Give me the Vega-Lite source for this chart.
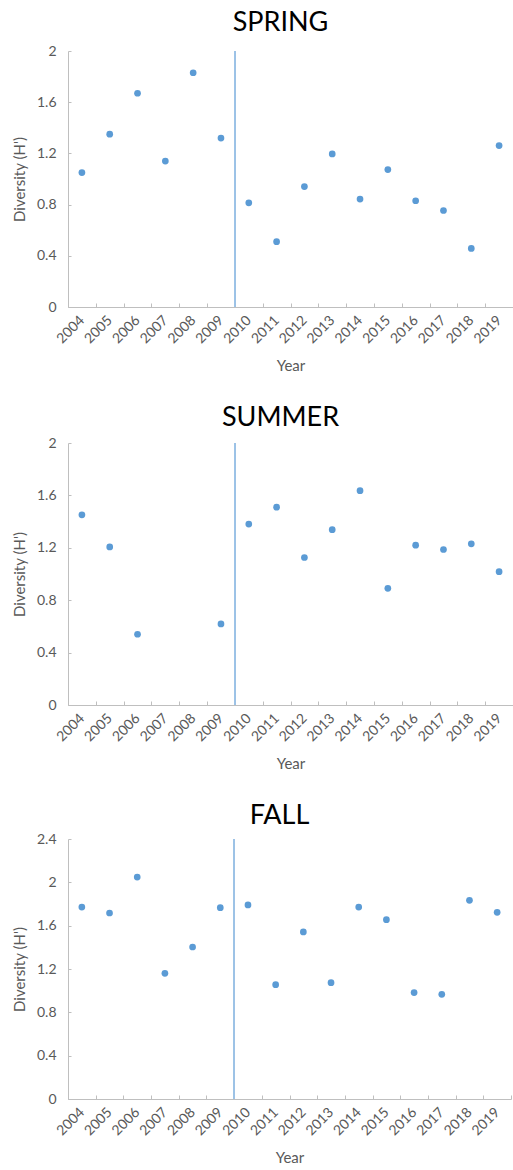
{
  "$schema": "https://vega.github.io/schema/vega-lite/v6.json",
  "padding": {"left": 12, "top": 9, "right": 0, "bottom": 0},
  "background": "white",
  "config": {
    "font": "Lato",
    "view": {"stroke": null},
    "title": {"fontSize": 27, "fontWeight": "normal", "color": "#000000", "font": "Lato", "offset": 14, "dx": -10},
    "axis": {"labelFont": "Lato", "titleFont": "Lato", "labelColor": "#595959", "titleColor": "#595959", "domainColor": "#BFBFBF", "tickColor": "#BFBFBF", "grid": false, "labelFontSize": 14, "titleFontSize": 15, "titleFontWeight": "normal"}
  },
  "datasets": {
    "d": [
      {"season": "SPRING", "year": "2004", "h": 1.05},
      {"season": "SPRING", "year": "2005", "h": 1.35},
      {"season": "SPRING", "year": "2006", "h": 1.67},
      {"season": "SPRING", "year": "2007", "h": 1.14},
      {"season": "SPRING", "year": "2008", "h": 1.83},
      {"season": "SPRING", "year": "2009", "h": 1.32},
      {"season": "SPRING", "year": "2010", "h": 0.814},
      {"season": "SPRING", "year": "2011", "h": 0.51},
      {"season": "SPRING", "year": "2012", "h": 0.941},
      {"season": "SPRING", "year": "2013", "h": 1.196},
      {"season": "SPRING", "year": "2014", "h": 0.843},
      {"season": "SPRING", "year": "2015", "h": 1.074},
      {"season": "SPRING", "year": "2016", "h": 0.83},
      {"season": "SPRING", "year": "2017", "h": 0.754},
      {"season": "SPRING", "year": "2018", "h": 0.458},
      {"season": "SPRING", "year": "2019", "h": 1.261},
      {"season": "SUMMER", "year": "2004", "h": 1.452},
      {"season": "SUMMER", "year": "2005", "h": 1.207},
      {"season": "SUMMER", "year": "2006", "h": 0.54},
      {"season": "SUMMER", "year": "2009", "h": 0.619},
      {"season": "SUMMER", "year": "2010", "h": 1.381},
      {"season": "SUMMER", "year": "2011", "h": 1.51},
      {"season": "SUMMER", "year": "2012", "h": 1.126},
      {"season": "SUMMER", "year": "2013", "h": 1.338},
      {"season": "SUMMER", "year": "2014", "h": 1.636},
      {"season": "SUMMER", "year": "2015", "h": 0.891},
      {"season": "SUMMER", "year": "2016", "h": 1.22},
      {"season": "SUMMER", "year": "2017", "h": 1.187},
      {"season": "SUMMER", "year": "2018", "h": 1.23},
      {"season": "SUMMER", "year": "2019", "h": 1.018},
      {"season": "FALL", "year": "2004", "h": 1.772},
      {"season": "FALL", "year": "2005", "h": 1.717},
      {"season": "FALL", "year": "2006", "h": 2.049},
      {"season": "FALL", "year": "2007", "h": 1.16},
      {"season": "FALL", "year": "2008", "h": 1.403},
      {"season": "FALL", "year": "2009", "h": 1.766},
      {"season": "FALL", "year": "2010", "h": 1.791},
      {"season": "FALL", "year": "2011", "h": 1.055},
      {"season": "FALL", "year": "2012", "h": 1.542},
      {"season": "FALL", "year": "2013", "h": 1.074},
      {"season": "FALL", "year": "2014", "h": 1.772},
      {"season": "FALL", "year": "2015", "h": 1.655},
      {"season": "FALL", "year": "2016", "h": 0.982},
      {"season": "FALL", "year": "2017", "h": 0.966},
      {"season": "FALL", "year": "2018", "h": 1.834},
      {"season": "FALL", "year": "2019", "h": 1.723}
    ]
  },
  "spacing": 30,
  "vconcat": [
    {
      "title": {"text": "SPRING", "offset": 7},
      "width": 445,
      "height": 256,
      "data": {"name": "d"},
      "transform": [{"filter": "datum.season === 'SPRING'"}],
      "layer": [
        {
          "mark": {"type": "rule", "color": "#9DC3E6", "strokeWidth": 1.2},
          "encoding": {"x": {"datum": "2010", "type": "nominal", "bandPosition": 0}}
        },
        {
          "mark": {"type": "circle", "size": 45, "opacity": 1, "color": "#5B9BD5"},
          "encoding": {
            "x": {"field": "year", "type": "nominal", "scale": {"type": "band", "paddingInner": 0, "paddingOuter": 0, "domain": ["2004","2005","2006","2007","2008","2009","2010","2011","2012","2013","2014","2015","2016","2017","2018","2019"]}, "axis": {"title": "Year", "labelAngle": -45, "tickBand": "extent", "tickSize": -4, "labelPadding": 15, "titlePadding": 13}},
            "y": {"field": "h", "type": "quantitative", "scale": {"domain": [0, 2], "nice": false}, "axis": {"title": "Diversity (H')", "values": [0, 0.4, 0.8, 1.2, 1.6, 2], "format": "~g", "tickSize": -3, "labelPadding": 15, "titlePadding": 9}}
          }
        }
      ]
    },
    {
      "title": {"text": "SUMMER", "offset": 4},
      "width": 445,
      "height": 262,
      "data": {"name": "d"},
      "transform": [{"filter": "datum.season === 'SUMMER'"}],
      "layer": [
        {
          "mark": {"type": "rule", "color": "#9DC3E6", "strokeWidth": 1.2},
          "encoding": {"x": {"datum": "2010", "type": "nominal", "bandPosition": 0}}
        },
        {
          "mark": {"type": "circle", "size": 45, "opacity": 1, "color": "#5B9BD5"},
          "encoding": {
            "x": {"field": "year", "type": "nominal", "scale": {"type": "band", "paddingInner": 0, "paddingOuter": 0, "domain": ["2004","2005","2006","2007","2008","2009","2010","2011","2012","2013","2014","2015","2016","2017","2018","2019"]}, "axis": {"title": "Year", "labelAngle": -45, "tickBand": "extent", "tickSize": -4, "labelPadding": 15, "titlePadding": 13}},
            "y": {"field": "h", "type": "quantitative", "scale": {"domain": [0, 2], "nice": false}, "axis": {"title": "Diversity (H')", "values": [0, 0.4, 0.8, 1.2, 1.6, 2], "format": "~g", "tickSize": -3, "labelPadding": 15, "titlePadding": 9}}
          }
        }
      ]
    },
    {
      "title": {"text": "FALL", "offset": 2},
      "width": 443,
      "height": 260,
      "data": {"name": "d"},
      "transform": [{"filter": "datum.season === 'FALL'"}],
      "layer": [
        {
          "mark": {"type": "rule", "color": "#9DC3E6", "strokeWidth": 1.2},
          "encoding": {"x": {"datum": "2010", "type": "nominal", "bandPosition": 0}}
        },
        {
          "mark": {"type": "circle", "size": 45, "opacity": 1, "color": "#5B9BD5"},
          "encoding": {
            "x": {"field": "year", "type": "nominal", "scale": {"type": "band", "paddingInner": 0, "paddingOuter": 0, "domain": ["2004","2005","2006","2007","2008","2009","2010","2011","2012","2013","2014","2015","2016","2017","2018","2019"]}, "axis": {"title": "Year", "labelAngle": -45, "tickBand": "extent", "tickSize": -4, "labelPadding": 15, "titlePadding": 13}},
            "y": {"field": "h", "type": "quantitative", "scale": {"domain": [0, 2.4], "nice": false}, "axis": {"title": "Diversity (H')", "values": [0, 0.4, 0.8, 1.2, 1.6, 2, 2.4], "format": "~g", "tickSize": -3, "labelPadding": 15, "titlePadding": 9}}
          }
        }
      ]
    }
  ]
}
